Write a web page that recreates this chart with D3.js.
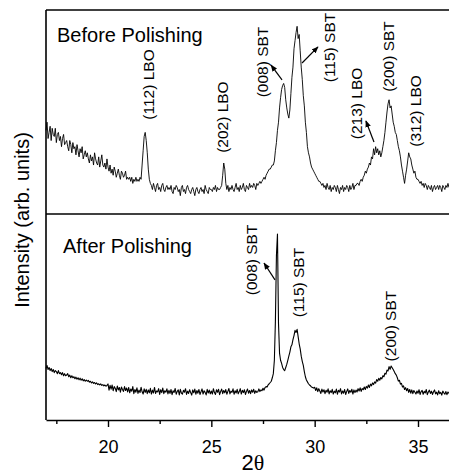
<!DOCTYPE html>
<html>
<head>
<meta charset="utf-8">
<script src="https://cdn.jsdelivr.net/npm/d3@7"></script>
<style>
  html, body { margin: 0; padding: 0; background: #fff; }
  svg { display: block; }
  text { font-family: "Liberation Sans", Arial, Helvetica, sans-serif; fill: #000; }
</style>
</head>
<body>
<svg id="chart" width="449" height="475"></svg>
<script>
// XRD scans, 2θ from 17.00° to 36.50° in 0.05° steps (one row per degree)
const twoThetaStart = 17.0;
const twoThetaStep = 0.05;

const beforePolishing = [
  41, 45, 37, 40, 43, 36, 42, 39, 38, 42, 35, 39, 40, 36, 38, 33, 37, 39, 34, 35,
  36, 33, 31, 36, 34, 30, 35, 32, 33, 29, 34, 31, 28, 32, 30, 33, 27, 29, 31, 28,
  30, 27, 25, 29, 26, 28, 24, 30, 27, 25, 24, 28, 23, 26, 29, 24, 23, 25, 22, 27,
  23, 21, 24, 20, 22, 19, 23, 21, 18, 20, 22, 19, 17, 21, 20, 18, 19, 21, 17, 18,
  17, 18, 16, 18, 15, 17, 16, 18, 16, 17, 16, 18, 17, 24, 31, 38, 40, 36, 30, 22,
  17, 15, 14, 12, 15, 13, 11, 14, 15, 12, 13, 11, 14, 15, 12, 11, 13, 14, 12, 13,
  12, 14, 11, 10, 13, 12, 14, 13, 11, 12, 9, 13, 14, 11, 12, 10, 13, 14, 12, 11,
  10, 12, 13, 11, 9, 12, 13, 11, 10, 12, 13, 11, 12, 10, 14, 12, 11, 10, 13, 12,
  12, 11, 13, 12, 14, 11, 13, 12, 12, 13, 14, 19, 25, 22, 15, 12, 14, 11, 13, 12,
  14, 12, 11, 13, 15, 12, 13, 11, 14, 12, 13, 15, 12, 11, 14, 13, 12, 15, 13, 14,
  13, 15, 14, 12, 15, 14, 15, 16, 15, 16, 17, 18, 17, 19, 20, 21, 22, 22, 23, 24,
  24, 26, 31, 35, 41, 45, 52, 57, 61, 63, 64, 62, 56, 52, 49, 47, 51, 59, 67, 72,
  81, 85, 89, 92, 86, 88, 80, 72, 66, 58, 53, 45, 40, 33, 30, 28, 25, 23, 22, 21,
  20, 19, 18, 17, 16, 16, 15, 14, 15, 13, 14, 12, 15, 13, 12, 14, 11, 13, 12, 14,
  13, 11, 14, 12, 10, 13, 12, 14, 11, 13, 12, 14, 13, 11, 14, 12, 13, 15, 12, 14,
  14, 15, 15, 14, 16, 17, 16, 18, 19, 21, 20, 22, 23, 25, 24, 28, 27, 32, 29, 33,
  30, 32, 29, 31, 28, 30, 33, 36, 40, 45, 50, 54, 56, 52, 53, 49, 45, 43, 40, 39,
  36, 33, 31, 28, 24, 21, 18, 15, 19, 22, 26, 30, 28, 27, 24, 22, 20, 21, 18, 17,
  17, 16, 15, 16, 14, 15, 13, 15, 14, 12, 14, 13, 12, 14, 11, 13, 14, 12, 13, 14,
  12, 14, 13, 11, 14, 13, 12, 14, 13, 15, 13
];

const afterPolishing = [
  25, 26.5, 24.5, 25.5, 24, 25, 23.5, 24.5, 23, 24, 23.5, 22.5, 24, 22.5, 23, 22, 23, 21.5, 22.5, 21.5,
  21.8, 22.5, 21, 21.8, 20.5, 21.5, 20.5, 21, 20, 20.8, 19.8, 20.5, 19.5, 20.3, 19.3, 20, 19, 19.6, 18.8, 19.4,
  18.8, 19.2, 18.4, 18.8, 18, 18.5, 17.8, 18.2, 17.5, 18, 17.2, 17.6, 17, 17.5, 16.8, 17.2, 16.6, 17, 16.4, 16.8,
  17.5, 14.5, 16.8, 15, 17, 14.2, 16.2, 15.4, 13.8, 16.5, 14.6, 15.8, 13.5, 16, 14.8, 13.9, 16.2, 14.3, 15.5, 13.6,
  15.8, 13.2, 15, 14, 16.2, 12.8, 14.8, 13.5, 15.6, 12.9, 14.5, 13.3, 15.9, 13.7, 12.6, 15.1, 13.4, 14.9, 12.8, 14.6,
  13.2, 15.4, 12.6, 14.5, 13.1, 15.8, 12.9, 14.1, 13.6, 15.2, 12.4, 14.7, 13.3, 15.5, 12.8, 14.2, 13.5, 15.1, 12.7, 14.4,
  12.9, 14.8, 12.3, 14.2, 13.4, 15.3, 12.5, 13.9, 14.6, 12.2, 14.9, 13.1, 12.6, 14.4, 13.5, 15.2, 12.4, 14, 12.9, 14.7,
  13.3, 12.1, 14.6, 13.2, 15, 12.5, 14.3, 13, 14.8, 12.4, 13.7, 15.1, 12.6, 14.2, 13.4, 12.2, 14.9, 13.1, 14.5, 12.7,
  14.1, 12.6, 15.2, 13.3, 12.4, 14.7, 13.5, 14.9, 12.3, 13.8, 15, 12.8, 14.3, 13.2, 14.8, 12.5, 13.9, 15.3, 12.7, 14,
  13.4, 15.1, 12.5, 14.2, 13.1, 14.9, 12.7, 13.8, 15.2, 12.6, 14.4, 13.3, 14.7, 12.4, 13.9, 15, 13, 14.3, 12.8, 14.6,
  13.5, 14.9, 12.9, 14.2, 13.4, 13.7, 15.1, 13.8, 14.6, 14.2, 15.4, 14.5, 15.8, 16.2, 16, 17.1, 17.6, 18.2, 18.8, 20.5,
  22.5, 29, 48, 80, 90.3, 47, 32.5, 29, 27.5, 25.5, 24.5, 24, 25.5, 27, 29, 31, 33, 35.5, 36.5, 39,
  41, 43.5, 42.5, 44, 40.5, 37, 34.5, 31, 28.5, 26.5, 23.5, 21, 19.4, 18.5, 17.6, 17, 16.6, 16, 15.8, 15.5,
  15.9, 14.3, 15.6, 13.8, 15.2, 14.1, 12.9, 15, 13.6, 14.7, 12.8, 14.4, 13.5, 15.1, 12.7, 14.2, 13.3, 14.9, 12.6, 14,
  13.2, 15, 12.5, 14.4, 13.6, 15.2, 12.7, 14.1, 13, 14.8, 12.4, 13.9, 15.1, 12.9, 14.3, 13.5, 14.9, 12.6, 14.6, 13.3,
  14.5, 13.6, 15.2, 14.1, 15.6, 13.9, 15.3, 14.7, 16, 14.8, 16.3, 15.5, 17, 15.8, 17.4, 16.6, 18, 17.2, 18.5, 17.9,
  19.6, 18.8, 20.2, 19.3, 20.6, 20, 21.5, 21, 22.7, 22.3, 24.2, 23.8, 25.9, 24.6, 26.2, 25.4, 24.5, 23.5, 22.5, 21.8,
  20.5, 18.9, 19.3, 17.4, 17.8, 16, 16.6, 14.8, 15.7, 14.2, 15.3, 13.4, 14.8, 13, 14.6, 12.8, 14.3, 13.5, 12.6, 14.1,
  13, 14.7, 12.4, 13.8, 14.4, 12.5, 13.9, 13.1, 14.8, 12.3, 13.6, 14.5, 12.9, 14, 12.4, 13.7, 14.6, 12.7, 13.5, 12.2,
  14.2, 12.8, 13.4, 12.1, 14, 13.2, 12.5, 13.8, 12.3, 13.6, 12.9
];

// axis ticks
const majorTicks = [20, 25, 30, 35];
const minorTicks = [17.5, 22.5, 27.5, 32.5];

// reflection labels: [2θ, intensity] of the label centre
const beforeLabels = [
  { text: "(112) LBO", at: [21.94, 63.5] },
  { text: "(202) LBO", at: [25.56, 47.5] },
  { text: "(008) SBT", at: [27.48, 74.5] },
  { text: "(115) SBT", at: [30.74, 81.6] },
  { text: "(213) LBO", at: [32.0, 54.2] },
  { text: "(200) SBT", at: [33.57, 77.2] },
  { text: "(312) LBO", at: [34.88, 50.5] }
];
const afterLabels = [
  { text: "(008) SBT", at: [26.94, 77.7] },
  { text: "(115) SBT", at: [29.22, 66.7] },
  { text: "(200) SBT", at: [33.69, 45.6] }
];
// pointer arrows: from peak [2θ, I] to label [2θ, I]
const beforeArrows = [
  { from: [28.42, 65.7], to: [27.89, 73.0] },
  { from: [29.39, 74.0], to: [30.16, 81.9] },
  { from: [32.87, 35.3], to: [32.48, 45.6] }
];
const afterArrows = [
  { from: [28.08, 68.0], to: [27.55, 76.2] }
];

const svg = d3.select("#chart");
const plotLeft = 46, plotRight = 449, plotTop = 10, plotMid = 214, plotBottom = 420;

const x = d3.scaleLinear().domain([17, 36.5]).range([plotLeft, plotRight]);
const yTop = d3.scaleLinear().domain([0, 100]).range([plotMid, plotTop]);
const yBottom = d3.scaleLinear().domain([0, 100]).range([plotBottom, plotMid]);

const toPoints = vals => vals.map((v, i) => [twoThetaStart + i * twoThetaStep, v]);

svg.append("defs").append("marker")
  .attr("id", "arrowhead")
  .attr("viewBox", "0 0 10 10")
  .attr("refX", 9).attr("refY", 5)
  .attr("markerWidth", 7).attr("markerHeight", 7)
  .attr("markerUnits", "userSpaceOnUse")
  .attr("orient", "auto")
  .append("path").attr("d", "M0,1 L10,5 L0,9 Z").attr("fill", "#000");

function drawPanel(vals, y, labels, arrows, title, titleY, titleX, width) {
  const line = d3.line().x(d => x(d[0])).y(d => y(d[1]));
  svg.append("path")
    .datum(toPoints(vals))
    .attr("d", line)
    .attr("fill", "none")
    .attr("stroke", "#000")
    .attr("stroke-width", width)
    .attr("stroke-linejoin", "round");

  svg.append("text")
    .attr("x", titleX).attr("y", titleY)
    .attr("font-size", 20)
    .text(title);

  labels.forEach(l => {
    const cx = x(l.at[0]), cy = y(l.at[1]);
    svg.append("text")
      .attr("transform", `translate(${cx},${cy}) rotate(-90)`)
      .attr("text-anchor", "middle")
      .attr("dominant-baseline", "central")
      .attr("font-size", 15.5)
      .text(l.text);
  });

  arrows.forEach(a => {
    svg.append("line")
      .attr("x1", x(a.from[0])).attr("y1", y(a.from[1]))
      .attr("x2", x(a.to[0])).attr("y2", y(a.to[1]))
      .attr("stroke", "#000").attr("stroke-width", 1.2)
      .attr("marker-end", "url(#arrowhead)");
  });
}

drawPanel(beforePolishing, yTop, beforeLabels, beforeArrows, "Before Polishing", 42, 57, 0.9);
drawPanel(afterPolishing, yBottom, afterLabels, afterArrows, "After Polishing", 253, 63, 1.1);

// frame: left spine, top edge and panel divider
const frame = svg.append("g").attr("stroke", "#000").attr("stroke-width", 1.6);
frame.append("line").attr("x1", plotLeft).attr("x2", plotLeft).attr("y1", plotTop).attr("y2", plotBottom);
frame.append("line").attr("x1", plotLeft).attr("x2", plotRight).attr("y1", plotTop).attr("y2", plotTop);
frame.append("line").attr("x1", plotLeft).attr("x2", plotRight).attr("y1", plotMid).attr("y2", plotMid);

// bottom axis with major and minor ticks
const axis = svg.append("g").attr("transform", `translate(0,${plotBottom})`)
  .call(d3.axisBottom(x).tickValues(majorTicks).tickSize(7).tickPadding(13).tickSizeOuter(0));
axis.select(".domain").attr("stroke-width", 1.6);
axis.selectAll(".tick line").attr("stroke-width", 1.4);
axis.selectAll(".tick text")
  .attr("font-size", 18)
  .attr("font-family", "\"Liberation Sans\", Arial, sans-serif")
  .attr("fill", "#000");
svg.append("g").attr("transform", `translate(0,${plotBottom})`)
  .call(d3.axisBottom(x).tickValues(minorTicks).tickSize(4).tickFormat(""))
  .call(g => g.select(".domain").remove())
  .selectAll(".tick line").attr("stroke-width", 1.4);

// axis titles
const xTitle = svg.append("text")
  .attr("x", 253).attr("y", 470)
  .attr("text-anchor", "middle")
  .attr("font-size", 22);
xTitle.append("tspan").text("2");
xTitle.append("tspan").attr("font-family", "\"Liberation Serif\", serif").text("θ");

svg.append("text")
  .attr("transform", "translate(29,220) rotate(-90)")
  .attr("text-anchor", "middle")
  .attr("font-size", 20)
  .text("Intensity (arb. units)");
</script>
</body>
</html>
